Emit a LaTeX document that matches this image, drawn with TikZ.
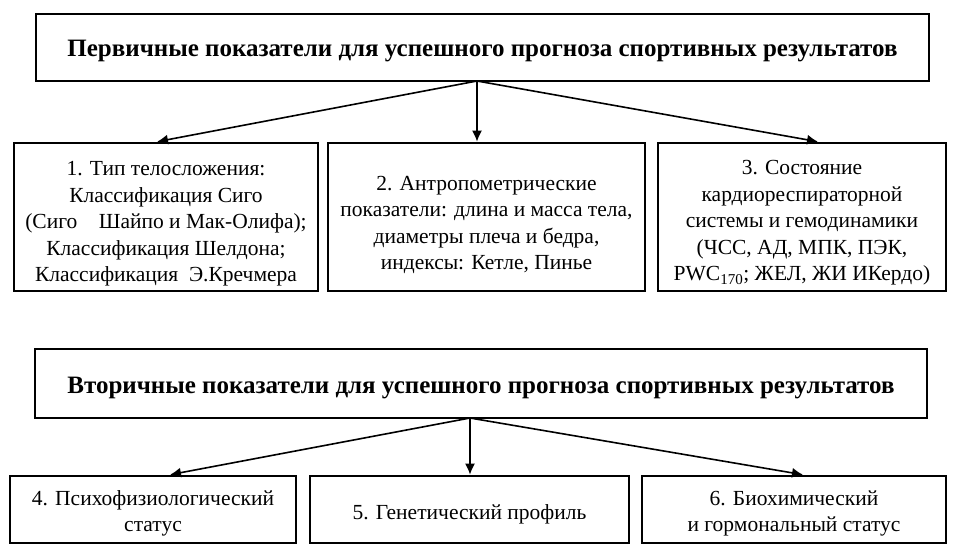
\documentclass[tikz,border=0pt]{standalone}
\usepackage{fontspec}
\setmainfont{Liberation Serif}
\usetikzlibrary{arrows.meta}
\newcommand{\dn}[1]{\rule{0pt}{#1}}
\begin{document}
\begin{tikzpicture}[x=1pt,y=-1pt,
  box/.style={draw, line width=2.6pt, inner sep=0pt, align=center,
    font=\fontsize{21.5}{26.5}\selectfont},
  head/.style={box, font=\bfseries\fontsize{25}{28}\selectfont},
  arr/.style={line width=1.6pt, -{Latex[length=11pt,width=10pt]}}]
\useasboundingbox (0,0) rectangle (957,556);
\node[head, minimum width=893pt, minimum height=67pt] (top) at (482.5,47.5)
  {\dn{23pt}Первичные показатели для успешного прогноза спортивных результатов};
\node[box, minimum width=304pt, minimum height=148pt] (b1) at (166,217)
  {\dn{28.5pt}1. Тип телосложения:\\Классификация Сиго\\(Сиго\quad Шайпо и Мак-Олифа);\\Классификация Шелдона;\\Классификация\ \ Э.Кречмера};
\node[box, minimum width=317pt, minimum height=148pt] (b2) at (486.5,217)
  {\dn{30.5pt}2. Антропометрические\\показатели: длина и масса тела,\\диаметры плеча и бедра,\\индексы: Кетле, Пинье};
\node[box, minimum width=288pt, minimum height=148pt] (b3) at (802,217)
  {\dn{26.5pt}3. Состояние\\кардиореспираторной\\системы и гемодинамики\\(ЧСС, АД, МПК, ПЭК,\\PWC\textsubscript{170}; ЖЕЛ, ЖИ ИКердо)};
\node[head, minimum width=892pt, minimum height=69pt] (sec) at (481,383.5)
  {\dn{25pt}Вторичные показатели для успешного прогноза спортивных результатов};
\node[box, minimum width=286pt, minimum height=67pt] (b4) at (153,509.5)
  {\dn{22.7pt}4. Психофизиологический\\статус};
\node[box, minimum width=319pt, minimum height=67pt] (b5) at (469.5,509.5)
  {\dn{24.5pt}5. Генетический профиль};
\node[box, minimum width=304pt, minimum height=67pt] (b6) at (794,509.5)
  {\dn{22.5pt}6. Биохимический\\и гормональный статус};
\coordinate (o1) at (477,81);
\coordinate (t1) at (157,143);
\coordinate (t3) at (818,143);
\coordinate (o2) at (470,418);
\coordinate (t4) at (170,476);
\coordinate (t6) at (803,476);
\draw[arr] (o1) -- (b1.north -| t1);
\draw[arr] (o1) -- (b2.north -| o1);
\draw[arr] (o1) -- (b3.north -| t3);
\draw[arr] (o2) -- (b4.north -| t4);
\draw[arr] (o2) -- (b5.north -| o2);
\draw[arr] (o2) -- (b6.north -| t6);
\end{tikzpicture}
\end{document}
